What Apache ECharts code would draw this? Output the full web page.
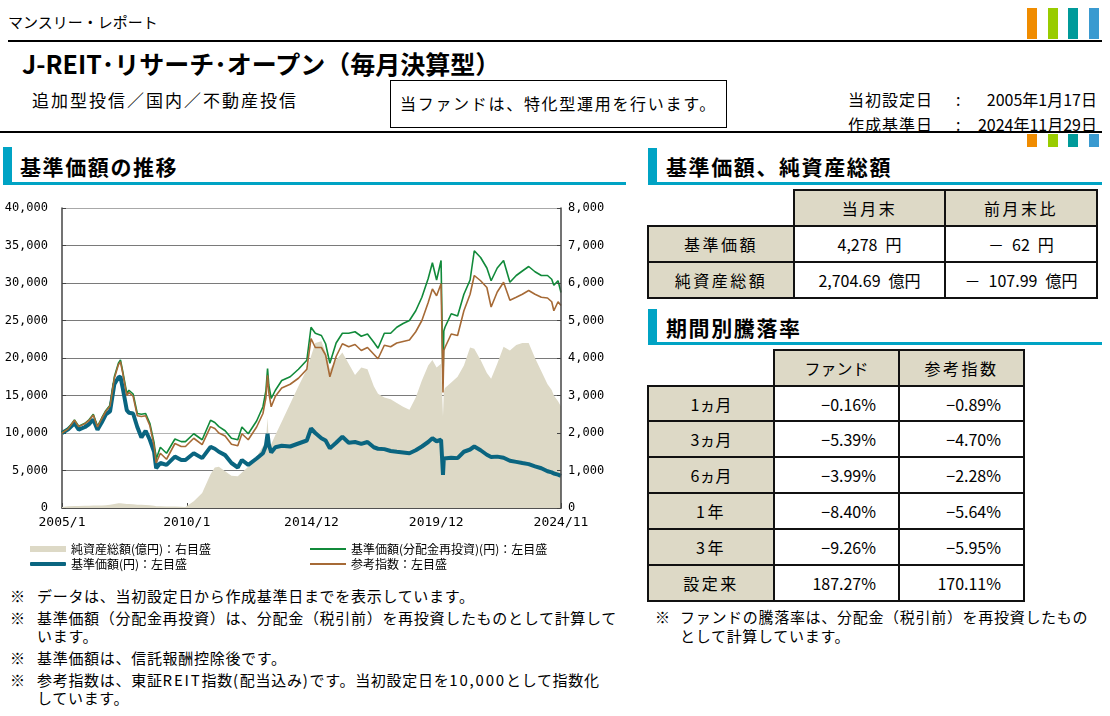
<!DOCTYPE html>
<html lang="ja"><head><meta charset="utf-8"><title>J-REIT・リサーチ・オープン（毎月決算型）</title>
<script src="https://cdn.jsdelivr.net/npm/echarts/dist/echarts.min.js"></script>
<style>
html,body{margin:0;padding:0;background:#fff;}
#page{position:relative;width:1110px;height:716px;overflow:hidden;font-family:"Noto Sans CJK JP","Noto Sans",sans-serif;color:#000;}
.a{position:absolute;white-space:nowrap;}
.bar{position:absolute;}
.cell{position:absolute;box-sizing:border-box;border:2px solid #111;display:flex;align-items:center;justify-content:center;font-size:16px;white-space:pre;}
.beige{background:#ddd9c6;}
.lbl{letter-spacing:2.5px;}
.note{position:absolute;white-space:nowrap;font-size:15px;letter-spacing:0.7px;line-height:20px;}
.note .w{letter-spacing:1.8px;}
.sec{position:absolute;white-space:nowrap;font-size:21px;font-weight:bold;letter-spacing:1.6px;line-height:26px;}
</style></head><body>
<div id="page">
  <div class="a" style="left:8px;top:11px;font-size:15px;line-height:22px;">マンスリー・レポート</div>
  <div class="bar" style="left:1027px;top:8px;width:10px;height:31px;background:#f08c00"></div>
  <div class="bar" style="left:1048px;top:8px;width:10px;height:31px;background:#99cc00"></div>
  <div class="bar" style="left:1068px;top:8px;width:10px;height:31px;background:#009a9a"></div>
  <div class="bar" style="left:1089px;top:8px;width:10px;height:31px;background:#3a9ad0"></div>
  <div class="bar" style="left:8px;top:40px;width:1094px;height:2px;background:#000"></div>
  <div class="a" style="left:22px;top:48px;font-size:25px;font-weight:bold;line-height:30px;">J-REIT･リサーチ･オープン（毎月決算型）</div>
  <div class="a" style="left:32px;top:89px;font-size:17px;letter-spacing:2px;line-height:22px;">追加型投信／国内／不動産投信</div>
  <div class="a" style="left:390px;top:80px;width:337px;height:48px;box-sizing:border-box;border:1.5px solid #000;font-size:16px;letter-spacing:1.7px;line-height:45px;text-align:center;">当ファンドは、特化型運用を行います。</div>
  <div class="a" style="left:848px;top:88px;font-size:16px;letter-spacing:1px;line-height:22px;">当初設定日</div>
  <div class="a" style="left:956px;top:88px;font-size:16px;line-height:22px;">:</div>
  <div class="a" style="right:13px;top:88px;font-size:16px;line-height:22px;">2005年1月17日</div>
  <div class="a" style="left:848px;top:113px;font-size:16px;letter-spacing:1px;line-height:22px;">作成基準日</div>
  <div class="a" style="left:956px;top:113px;font-size:16px;line-height:22px;">:</div>
  <div class="a" style="right:13px;top:113px;font-size:16px;line-height:22px;">2024年11月29日</div>
  <div class="bar" style="left:0px;top:131px;width:1102px;height:2px;background:#000"></div>
  <div class="bar" style="left:1027px;top:134px;width:10px;height:13px;background:#f08c00"></div>
  <div class="bar" style="left:1048px;top:134px;width:10px;height:13px;background:#99cc00"></div>
  <div class="bar" style="left:1068px;top:134px;width:10px;height:13px;background:#009a9a"></div>
  <div class="bar" style="left:1089px;top:134px;width:10px;height:13px;background:#3a9ad0"></div>

  <div class="bar" style="left:3px;top:147px;width:9px;height:37px;background:#00a3c4"></div>
  <div class="bar" style="left:3px;top:182px;width:623px;height:2.5px;background:#00a3c4"></div>
  <div class="sec" style="left:20px;top:153px;">基準価額の推移</div>

  <div class="bar" style="left:648px;top:148px;width:9px;height:36px;background:#00a3c4"></div>
  <div class="bar" style="left:648px;top:182px;width:454px;height:2.5px;background:#00a3c4"></div>
  <div class="sec" style="left:666px;top:153px;">基準価額、純資産総額</div>

  <div class="bar" style="left:648px;top:309px;width:9px;height:36px;background:#00a3c4"></div>
  <div class="bar" style="left:648px;top:342px;width:454px;height:2.5px;background:#00a3c4"></div>
  <div class="sec" style="left:666px;top:314px;">期間別騰落率</div>

  <div id="chart" style="position:absolute;left:0;top:190px;width:630px;height:390px;"></div>

  <div id="tables"></div>

  <div class="note" style="left:10px;top:586px;">※</div>
  <div class="note" style="left:37px;top:586px;">データは、当初設定日から作成基準日までを表示しています。</div>
  <div class="note" style="left:10px;top:608px;">※</div>
  <div class="note" style="left:37px;top:608px;">基準価額（分配金再投資）は、分配金（税引前）を再投資したものとして計算して</div>
  <div class="note" style="left:37px;top:626px;">います。</div>
  <div class="note" style="left:10px;top:648px;">※</div>
  <div class="note" style="left:37px;top:648px;">基準価額は、信託報酬控除後です。</div>
  <div class="note" style="left:10px;top:670px;">※</div>
  <div class="note" style="left:37px;top:670px;">参考指数は、東証<span class="w">REIT</span>指数<span class="w">(</span>配当込み<span class="w">)</span>です。当初設定日を<span class="w">10,000</span>として指数化</div>
  <div class="note" style="left:37px;top:688px;">しています。</div>

  <div class="note" style="left:655px;top:607px;">※</div>
  <div class="note" style="left:680px;top:607px;">ファンドの騰落率は、分配金（税引前）を再投資したもの</div>
  <div class="note" style="left:680px;top:626px;">として計算しています。</div>
</div>
<script>
// ---------------- data ----------------
const dates = ['2005/1/17','2005/4','2005/7','2005/9','2005/12','2006/2','2006/4','2006/6','2006/8','2006/10',
 '2006/12','2007/2','2007/4','2007/5','2007/6','2007/8','2007/9','2007/11','2008/1','2008/3',
 '2008/5','2008/7','2008/9','2008/10','2008/12','2009/3','2009/7','2009/10','2009/12','2010/4',
 '2010/8','2010/12','2011/2','2011/4','2011/7','2011/10','2012/1','2012/3','2012/6','2012/10',
 '2013/1','2013/3/1','2013/3/25','2013/4/12','2013/5','2013/7','2013/10','2014/2','2014/6','2014/10','2014/12','2015/2',
 '2015/5','2015/7','2015/9','2015/12','2016/3','2016/6','2016/9','2016/12','2017/3','2017/6',
 '2017/8','2017/11','2018/2','2018/5','2018/8','2018/11','2019/2','2019/5','2019/8','2019/10',
 '2019/12','2020/2/20','2020/3/19','2020/3/31','2020/4','2020/7','2020/10','2021/1','2021/4','2021/6','2021/9',
 '2021/12','2022/2','2022/5','2022/8','2022/11','2023/2','2023/5','2023/8','2023/11','2024/2',
 '2024/5','2024/7','2024/8','2024/10','2024/11/29'];

// 基準価額（分配金再投資）(円)
const navReinvested = [10000,10600,11750,10900,11300,11800,12500,10900,12000,13000,
 13700,17500,19300,19750,18300,15300,15700,15200,12600,12500,
 12600,11300,8700,6500,8100,7300,9200,8850,8850,9900,
 9100,11700,11400,10850,10300,9300,9100,10800,9900,11600,
 13500,15600,18600,16400,14600,15700,17000,17500,18500,19700,24100,23300,
 23000,21900,19300,22000,23300,23300,23500,22900,23200,22100,
 21300,23300,23300,24100,24600,25000,26300,28100,30600,32700,
 30400,33000,16800,23600,24100,25900,25600,28500,30400,34300,33400,
 32000,30300,32000,33000,30100,31000,31600,32200,31500,31000,
 31000,30500,29700,30300,28727];

// 参考指数
const refIndex = [10000,10550,11700,10850,11250,11700,12400,10800,11900,12900,
 13600,17300,19100,19500,18100,15000,15400,14900,12300,12200,
 12300,11000,8300,6000,7300,6500,8600,8200,8200,9300,
 8450,10850,10600,10000,9600,8500,8300,9900,9100,10800,
 12600,14700,17700,15400,13500,14900,16000,16500,17300,18500,22600,21400,
 21400,20400,17500,20200,21900,21500,21800,21000,21400,20500,
 19900,21700,21500,22000,22200,22400,23500,25000,27400,29200,
 28300,29900,15400,21000,21400,23200,23000,26300,28500,31000,30300,
 29400,26800,28800,30100,27700,28100,28500,29000,28500,28100,
 28000,27500,26300,27500,27011];

// 基準価額 (円)
const navPrice = [10000,10500,11300,10450,10800,11200,11800,10450,11400,12500,
 12900,16500,17400,17500,16100,13050,12700,12600,10800,9400,
 10300,9100,7500,5300,6000,5750,6850,6400,6400,7300,
 6650,8150,7900,7500,7050,6000,5400,6400,5750,6600,
 7300,8300,9900,8500,7400,8100,8300,8200,8600,9000,10600,10000,
 9300,9000,7950,8700,9500,8700,8800,8550,8800,8100,
 7900,7850,7600,7500,7400,7300,7700,8200,8800,9300,
 8900,9100,4420,6600,6850,6700,6650,7500,7800,8200,7700,
 7100,6800,6850,6700,6300,6150,6000,5850,5550,5300,
 4900,4750,4600,4450,4278];

// 純資産総額 (億円)
const netAssets = [30,45,55,55,60,62,65,65,70,75,
 85,105,125,130,120,110,105,100,90,85,
 80,75,60,50,45,40,40,35,30,180,
 400,900,1080,1100,980,860,850,950,1100,1370,
 1650,1800,2400,1750,1700,1950,2300,2780,3250,3700,4050,4400,
 4450,4150,3700,3950,4150,3850,3550,3750,3700,3250,
 3050,2950,2900,2800,2700,2620,2950,3400,3800,3950,
 3750,3850,2440,3100,3200,3350,3500,3800,4280,4250,3950,
 3600,3450,3850,4300,4200,4350,4400,4400,4000,3650,
 3300,3150,3000,2850,2705];

const xTickLabels = ['2005/1','2010/1','2014/12','2019/12','2024/11'];
const leftTicks = {min:0, max:40000, step:5000};
const rightTicks = {min:0, max:8000, step:1000};

const seriesNames = {
  assets:'純資産総額(億円)：右目盛',
  price:'基準価額(円)：左目盛',
  reinv:'基準価額(分配金再投資)(円)：左目盛',
  index:'参考指数：左目盛'
};

// table data
const navTableCols = ['当月末','前月末比'];
const navTableRows = ['基準価額','純資産総額'];
const navTableVals = [['4,278\u2002円','－\u200262\u2002円'],['2,704.69\u2002億円','－\u2002107.99\u2002億円']];
const perfCols = ['ファンド','参考指数'];
const perfRows = ['1ヵ月','3ヵ月','6ヵ月','1年','3年','設定来'];
const perfFund = ['−0.16%','−5.39%','−3.99%','−8.40%','−9.26%','187.27%'];
const perfIndex = ['−0.89%','−4.70%','−2.28%','−5.64%','−5.95%','170.11%'];

// ---------------- tables ----------------
(function(){
  const host = document.getElementById('tables');
  function cell(x0,x1,y0,y1,txt,cls,style){
    const d = document.createElement('div');
    d.className = 'cell ' + (cls||'');
    d.style.left = (x0-1)+'px'; d.style.top = (y0-1)+'px';
    d.style.width = (x1-x0+2)+'px'; d.style.height = (y1-y0+2)+'px';
    if (style) Object.assign(d.style, style);
    d.textContent = txt;
    host.appendChild(d);
  }
  const spaced = t => /[ヵァ]/.test(t) ? 'beige' : 'beige lbl';
  const c1 = [648,794,945,1097], r1 = [190,226,262,298];
  navTableCols.forEach((t,i)=>cell(c1[i+1],c1[i+2],r1[0],r1[1],t,spaced(t)));
  navTableRows.forEach((t,r)=>{
    cell(c1[0],c1[1],r1[r+1],r1[r+2],t,spaced(t));
    navTableVals[r].forEach((v,i)=>cell(c1[i+1],c1[i+2],r1[r+1],r1[r+2],v,'',{background:'#fff'}));
  });
  const c2 = [648,774,899,1024], r2 = [350,386,421,457,493,529,565,601];
  perfCols.forEach((t,i)=>cell(c2[i+1],c2[i+2],r2[0],r2[1],t,spaced(t)));
  perfRows.forEach((t,r)=>{
    cell(c2[0],c2[1],r2[r+1],r2[r+2],t,spaced(t));
    cell(c2[1],c2[2],r2[r+1],r2[r+2],perfFund[r],'',{background:'#fff',justifyContent:'flex-end',paddingRight:'22px'});
    cell(c2[2],c2[3],r2[r+1],r2[r+2],perfIndex[r],'',{background:'#fff',justifyContent:'flex-end',paddingRight:'22px'});
  });
})();

// ---------------- chart ----------------
const ORIGIN = Date.UTC(2005,0,17);
function dayOffset(s){
  const p = s.split('/').map(Number);
  return Math.round((Date.UTC(p[0],p[1]-1,p[2]||17) - ORIGIN)/86400000);
}
const xs = dates.map(dayOffset);
const X_MAX = dayOffset('2024/11/29');
const X_STEP = X_MAX/4;
const pairs = arr => xs.map((x,i)=>[x, arr[i]]);
const fmt = v => Number(v).toLocaleString('en-US');

const colors = {assets:'#ddd9c6', price:'#0a6580', reinv:'#118a3a', index:'#a66a36'};
const chart = echarts.init(document.getElementById('chart'), null, {renderer:'canvas'});
const axisColor = '#444';
const numFont = 'DejaVu Sans Mono';
const legendText = {fontSize:12, color:'#000', fontFamily:'Noto Sans CJK JP'};
function oneLegend(name, left, top, h, icon, color){
  return {orient:'vertical', left:left, top:top, itemWidth:36, itemHeight:h, selectedMode:false,
    textStyle:legendText, data:[{name:name, icon:icon, itemStyle:{color:color}}]};
}
chart.setOption({
  animation:false,
  backgroundColor:'transparent',
  grid:{left:62, top:18, width:499, height:300, containLabel:false, outerBoundsMode:'none'},
  xAxis:{type:'value', min:0, max:X_MAX, interval:X_STEP,
    axisLine:{show:true, lineStyle:{color:axisColor, width:1.5}},
    axisTick:{show:true, inside:true, length:5, lineStyle:{color:axisColor}},
    axisLabel:{formatter:v=>xTickLabels[Math.round(v/X_STEP)] || '', fontSize:13, color:'#000', margin:8, fontFamily:numFont},
    splitLine:{show:false}},
  yAxis:[
    {type:'value', min:leftTicks.min, max:leftTicks.max, interval:leftTicks.step, position:'left', z:0,
     axisLine:{show:true, lineStyle:{color:axisColor, width:1.5}},
     axisTick:{show:true, inside:true, length:4, lineStyle:{color:axisColor}},
     axisLabel:{formatter:fmt, fontSize:12, color:'#000', margin:14, fontFamily:numFont},
     splitLine:{show:true, lineStyle:{width:1, color:['#7a7a7a','#7a7a7a','#b4b4b4','#7a7a7a','#7a7a7a','#7a7a7a','#7a7a7a','#7a7a7a','#a8a8a8']}}},
    {type:'value', min:rightTicks.min, max:rightTicks.max, interval:rightTicks.step, position:'right', z:10,
     axisLine:{show:true, lineStyle:{color:axisColor, width:1.5}},
     axisTick:{show:true, inside:true, length:4, lineStyle:{color:axisColor}},
     axisLabel:{formatter:fmt, fontSize:12, color:'#000', margin:7, fontFamily:numFont},
     splitLine:{show:false}}
  ],
  legend:[
    oneLegend(seriesNames.assets, 25, 348, 6, 'rect', colors.assets),
    oneLegend(seriesNames.price, 25, 363, 4, 'roundRect', colors.price),
    oneLegend(seriesNames.reinv, 305, 348, 2, 'rect', colors.reinv),
    oneLegend(seriesNames.index, 305, 363, 2, 'rect', colors.index)
  ],
  series:[
    {name:seriesNames.assets, type:'line', yAxisIndex:1, data:pairs(netAssets), symbol:'none', z:1, silent:true,
     lineStyle:{width:0, color:colors.assets}, itemStyle:{color:colors.assets}, areaStyle:{color:colors.assets, opacity:1}},
    {name:seriesNames.price, type:'line', data:pairs(navPrice), symbol:'none', z:2,
     lineStyle:{width:4, color:colors.price}, itemStyle:{color:colors.price}},
    {name:seriesNames.reinv, type:'line', data:pairs(navReinvested), symbol:'none', z:3,
     lineStyle:{width:1.6, color:colors.reinv}, itemStyle:{color:colors.reinv}},
    {name:seriesNames.index, type:'line', data:pairs(refIndex), symbol:'none', z:4,
     lineStyle:{width:1.6, color:colors.index}, itemStyle:{color:colors.index}}
  ]
});
</script>
</body></html>
